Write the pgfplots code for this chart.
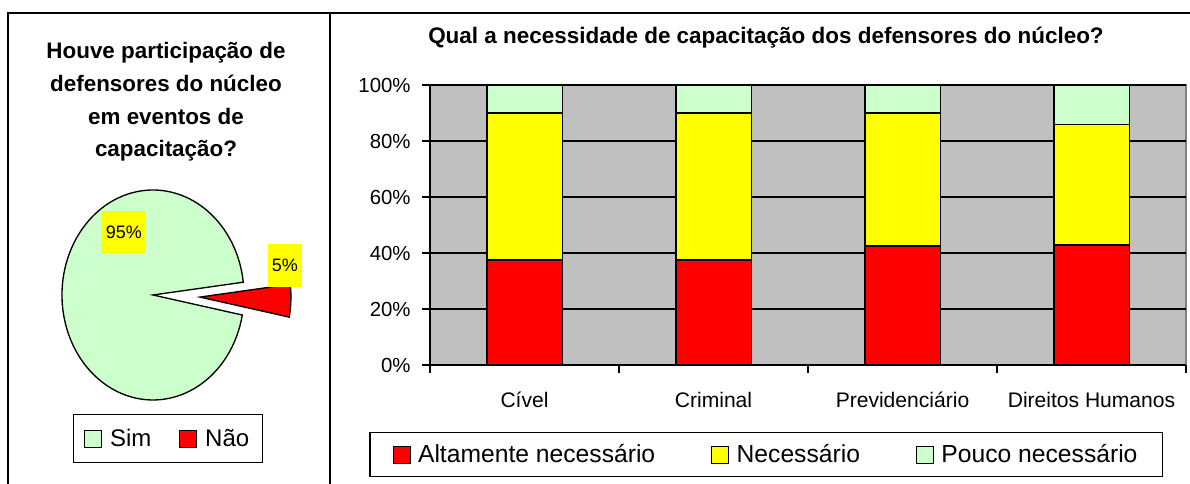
\documentclass[border=0pt]{standalone}
\usepackage{fontspec}
\setmainfont{Liberation Sans}
\usepackage{pgfplots}
\pgfplotsset{compat=1.18}
\definecolor{xred}{RGB}{255,0,0}
\definecolor{xyellow}{RGB}{255,255,0}
\definecolor{xgreen}{RGB}{204,255,204}
\definecolor{xgray}{RGB}{192,192,192}
\newcommand{\fs}[1]{\fontsize{#1}{1.2\dimexpr#1pt\relax}\selectfont}

% pie values (percent) and start angle of the "Nao" slice
\def\simv{95}
\def\naov{5}
\pgfmathsetmacro{\naostart}{-11}
\pgfmathsetmacro{\naoend}{\naostart+3.6*\naov}
\pgfmathsetmacro{\simend}{\naoend+3.6*\simv}

\pgfplotsset{
  sqlegend/.style={legend image code/.code={%
    \draw[##1,line width=0.8pt] (0pt,-6.4pt) rectangle (12.75pt,6.4pt);}},
}

\begin{document}
\begin{tikzpicture}[x=0.75pt,y=0.75pt]
\useasboundingbox (0,0) rectangle (1190,484);

% frames
\draw[line width=1.5pt] (8,-10) -- (8,471) -- (1200,471);
\draw[line width=1.5pt] (330,471) -- (330,-10);

% ---- pie panel ----
\node[anchor=north,align=center,font=\bfseries\fontsize{16.8}{24.5}\selectfont]
  at (166,446) {Houve participação de\\defensores do núcleo\\em eventos de\\capacitação?};

\begin{axis}[
  at={(39.65pt,23.625pt)}, anchor=south west,
  x=68.25pt, y=78.75pt,
  xmin=-1.1, xmax=1.65, ymin=-1.5, ymax=1.1,
  hide axis, clip=false,
  sqlegend,
  legend columns=2,
  legend style={at={(0.46,0.051)},anchor=center,draw=black,line width=0.8pt,
    font=\fs{18},inner xsep=8pt,inner ysep=9pt,
    /tikz/every odd column/.append style={column sep=4pt},
    /tikz/every even column/.append style={column sep=18.75pt}},
]
\addplot[fill=xgreen,draw=black,line width=1pt,domain=\naoend:\simend,samples=150]
  ({cos(x)},{sin(x)}) -- (axis cs:0,0) -- cycle;
\addlegendentry{Sim}
\addplot[fill=xred,draw=black,line width=1pt,domain=\naostart:\naoend,samples=20]
  ({0.516+cos(x)},{-0.02+sin(x)}) -- (axis cs:0.516,-0.02) -- cycle;
\addlegendentry{Não}
\node[fill=xyellow,font=\fs{13.5},minimum height=31.5pt,inner xsep=3pt]
  at (axis cs:-0.319,0.6) {95\%};
\node[fill=xyellow,font=\fs{13.5},minimum height=32pt,minimum width=25.5pt,inner xsep=2pt]
  at (axis cs:1.45,0.28) {5\%};
\end{axis}

% ---- bar panel ----
\node[anchor=base,font=\bfseries\fs{16.85}] at (766,440)
  {Qual a necessidade de capacitação dos defensores do núcleo?};

\begin{axis}[
  at={(322.5pt,89.25pt)}, anchor=south west,
  scale only axis, width=567pt, height=210pt,
  ybar stacked, bar width=0.4,
  xmin=-0.5, xmax=3.5, ymin=0, ymax=100,
  axis lines=left, axis line style={-,black,line width=1pt},
  axis background/.style={fill=xgray,draw=gray,line width=1pt},
  xtick={0,1,2,3},
  xticklabels={Cível,Criminal,Previdenciário,Direitos Humanos},
  major x tick style={draw=none},
  minor xtick={-0.5,0.5,1.5,2.5,3.5},
  ytick={0,20,40,60,80,100},
  yticklabels={0\%,20\%,40\%,60\%,80\%,100\%},
  tick align=outside, major tick length=6pt, minor tick length=6pt,
  tick style={black,line width=1pt},
  ymajorgrids, grid style={black,line width=1pt},
  xticklabel style={font=\fs{15.8},text height=11.5pt,text depth=3.5pt,yshift=-11pt},
  yticklabel style={font=\fs{15.3},xshift=-5pt},
  sqlegend,
  legend columns=3,
  legend style={at={(0.445,-0.321)},anchor=center,draw=black,line width=0.8pt,
    font=\fs{18.5},inner xsep=17pt,inner ysep=7pt,
    /tikz/every odd column/.append style={column sep=3.5pt},
    /tikz/every even column/.append style={column sep=40pt}},
]
\addplot[fill=xred,draw=black,line width=1.2pt]
  coordinates {(0,37.5)(1,37.5)(2,42.6)(3,42.8)};
\addlegendentry{Altamente necessário}
\addplot[fill=xyellow,draw=black,line width=1.2pt]
  coordinates {(0,52.5)(1,52.5)(2,47.5)(3,43.1)};
\addlegendentry{Necessário}
\addplot[fill=xgreen,draw=black,line width=1.2pt]
  coordinates {(0,10)(1,10)(2,9.9)(3,14.1)};
\addlegendentry{Pouco necessário}
\end{axis}
\end{tikzpicture}
\end{document}
